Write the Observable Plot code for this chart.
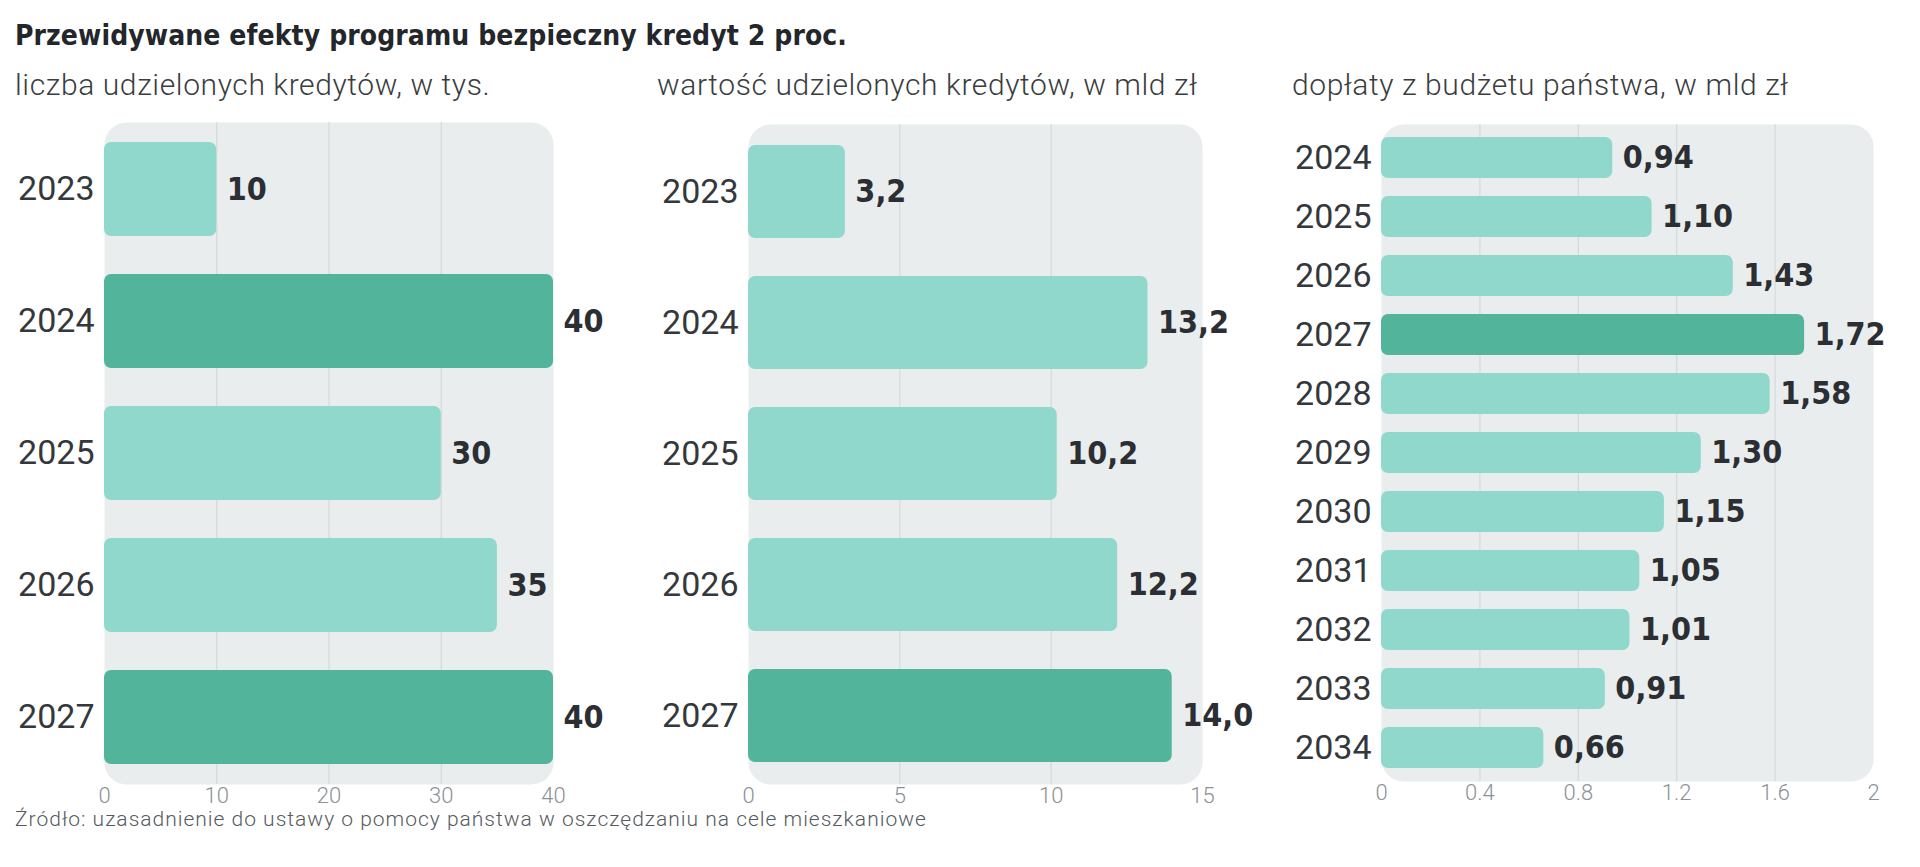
<!DOCTYPE html>
<html><head><meta charset="utf-8">
<script src="https://cdn.jsdelivr.net/npm/d3@7"></script>
<script src="https://cdn.jsdelivr.net/npm/@observablehq/plot@0.6"></script>
<style>
body{margin:0;background:#fff;}
#root{position:relative;width:1920px;height:867px;overflow:hidden;background:#fff;}
.abs{position:absolute;white-space:nowrap;line-height:1;}
#title{left:15px;top:22px;font-family:"DejaVu Sans Condensed","DejaVu Sans";font-weight:700;font-size:28px;letter-spacing:0.1px;color:#23262a;}
.sub{top:70px;font-family:Roboto;font-weight:300;font-size:30px;letter-spacing:0.6px;color:#3a3d40;}
#foot{left:15px;top:809px;font-family:Roboto;font-weight:300;font-size:21px;letter-spacing:1px;color:#555a5e;}
.panel{position:absolute;top:100px;}
.panel svg{overflow:visible;}
</style></head><body>
<div id="root">
  <div id="title" class="abs">Przewidywane efekty programu bezpieczny kredyt 2 proc.</div>
  <div class="abs sub" style="left:15px">liczba udzielonych kredytów, w tys.</div>
  <div class="abs sub" style="left:657px">wartość udzielonych kredytów, w mld zł</div>
  <div class="abs sub" style="left:1292px">dopłaty z budżetu państwa, w mld zł</div>
  <div id="p1" class="panel" style="left:0px"></div>
  <div id="p2" class="panel" style="left:640px"></div>
  <div id="p3" class="panel" style="left:1280px"></div>
  <div id="foot" class="abs">Źródło: uzasadnienie do ustawy o pomocy państwa w oszczędzaniu na cele mieszkaniowe</div>
</div>
<script>
// ---- data ----
const yearsA = ["2023", "2024", "2025", "2026", "2027"];
const loanCount = [10, 40, 30, 35, 40];          // tys.
const loanValue = [3.2, 13.2, 10.2, 12.2, 14.0]; // mld zł
const yearsB = ["2024", "2025", "2026", "2027", "2028", "2029", "2030", "2031", "2032", "2033", "2034"];
const subsidy = [0.94, 1.10, 1.43, 1.72, 1.58, 1.30, 1.15, 1.05, 1.01, 0.91, 0.66]; // mld zł
const highlightCount = ["2024", "2027"];
const highlightValue = ["2027"];
const highlightSubsidy = ["2027"];
const ticksCount = [0, 10, 20, 30, 40];
const ticksValue = [0, 5, 10, 15];
const ticksSubsidy = [0, 0.4, 0.8, 1.2, 1.6, 2];

const LIGHT = "#8fd8cb";
const DARK = "#52b59b";
const BG = "#eaeded";
const GRID = "#d3d9d9";
const fmtComma = (dec) => (v) => v.toFixed(dec).replace(".", ",");

function panel(cfg) {
  const data = cfg.years.map((y, i) => ({year: y, v: cfg.values[i], hi: cfg.highlight.includes(y)}));
  const svgTop = 100, svgH = 740;
  return Plot.plot({
    width: cfg.width,
    height: svgH,
    marginLeft: cfg.fx0 - cfg.left,
    marginRight: cfg.left + cfg.width - cfg.fx1,
    marginTop: cfg.fy0 - svgTop,
    marginBottom: svgTop + svgH - cfg.fy1,
    style: {background: "transparent", fontFamily: "Roboto", overflow: "visible"},
    x: {domain: cfg.domain},
    y: {domain: cfg.years, paddingInner: cfg.pi, paddingOuter: cfg.po},
    color: {type: "identity"},
    marks: [
      Plot.frame({fill: BG, stroke: "none", rx: 22}),
      Plot.gridX(cfg.ticks.slice(1, -1), {stroke: GRID, strokeOpacity: 1, strokeWidth: 1.2}),
      Plot.barX(data, {x: "v", y: "year", fill: d => d.hi ? DARK : LIGHT, rx: 7}),
      Plot.text(data, {
        x: "v", y: "year", text: d => cfg.fmt(d.v), dx: 10, textAnchor: "start",
        fontSize: 32, fontWeight: 700, fontFamily: "DejaVu Sans Condensed, DejaVu Sans", fill: "#2b2f33"
      }),
      Plot.axisY({tickSize: 0, tickPadding: 10, fontSize: 34, fill: "#34383c", label: null}),
      Plot.axisX({
        ticks: cfg.ticks, tickSize: 0, tickPadding: 3, fontSize: 22, fontWeight: 300,
        fill: "#8c9195", label: null, tickFormat: d => String(d)
      })
    ]
  });
}

document.getElementById("p1").append(panel({
  years: yearsA, values: loanCount, highlight: highlightCount, domain: [0, 40], ticks: ticksCount,
  fmt: fmtComma(0), left: 0, width: 640, fx0: 104, fx1: 553, fy0: 122, fy1: 784, pi: 0.29, po: 0.15
}));
document.getElementById("p2").append(panel({
  years: yearsA, values: loanValue, highlight: highlightValue, domain: [0, 15], ticks: ticksValue,
  fmt: fmtComma(1), left: 640, width: 640, fx0: 748, fx1: 1202, fy0: 124, fy1: 784, pi: 0.29, po: 0.15
}));
document.getElementById("p3").append(panel({
  years: yearsB, values: subsidy, highlight: highlightSubsidy, domain: [0, 2], ticks: ticksSubsidy,
  fmt: fmtComma(2), left: 1280, width: 640, fx0: 1381, fx1: 1873, fy0: 124, fy1: 781, pi: 0.305, po: 0.14
}));
</script>
</body></html>
